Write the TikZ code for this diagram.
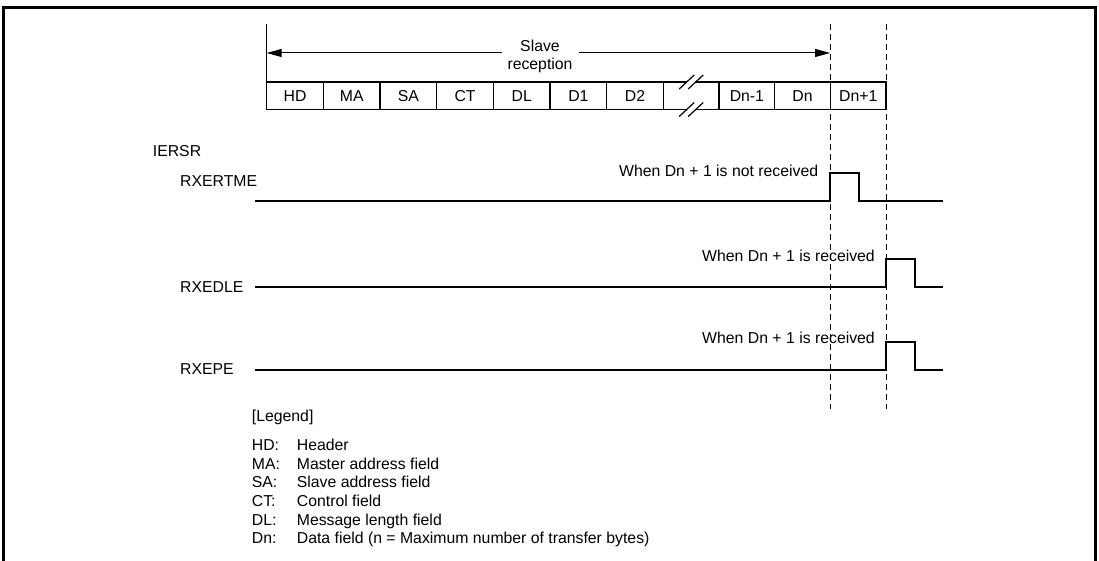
\documentclass[tikz,border=0pt]{standalone}
\usepackage{fontspec}
\setmainfont{Liberation Sans}
\usetikzlibrary{arrows.meta,positioning}

\begin{document}
\begin{tikzpicture}[x=1pt, y=-1pt,
        font=\fontsize{15.8}{18.6}\selectfont,
        cell/.style={draw, line width=1.5pt, minimum width=56.67pt,
                     minimum height=27.5pt, inner sep=0pt, outer sep=0pt},
        tail/.style={cell, minimum width=55.67pt},
        cut/.style={line width=1pt, dash pattern=on 6pt off 4pt},
        sig/.style={line width=2pt},
        span/.style={{Triangle[length=15pt,width=8pt]}-{Triangle[length=15pt,width=8pt]},
                     line width=1pt},
        lbl/.style={anchor=base west, inner sep=0pt},
        note/.style={anchor=base east, inner sep=0pt},
        slash/.style={line width=1.2pt}
      ]
        \useasboundingbox (0,0) rectangle (1099,561);
        \draw[line width=2.5pt] (3.5,566) -- (3.5,7.5) -- (1095.3,7.5) -- (1095.3,566);

        \coordinate (c1t) at (830,24);
        \coordinate (c1b) at (830,409);
        \coordinate (c2t) at (886,24);
        \coordinate (c2b) at (886,409);
        \draw[cut] (c1t) -- (c1b);
        \draw[cut] (c2t) -- (c2b);

        \node[cell, anchor=north west] (hd) at (266.7,82) {HD};
        \node[cell, right=0pt of hd]   (ma)  {MA};
        \node[cell, right=0pt of ma]   (sa)  {SA};
        \node[cell, right=0pt of sa]   (ct)  {CT};
        \node[cell, right=0pt of ct]   (dl)  {DL};
        \node[cell, right=0pt of dl]   (d1)  {D1};
        \node[cell, right=0pt of d1]   (d2)  {D2};
        \node[tail, right=0pt of d2]   (brk) {};
        \node[tail, right=0pt of brk]  (dnm) {Dn-1};
        \node[tail, right=0pt of dnm]  (dn)  {Dn};
        \node[tail, right=0pt of dn]   (dnp) {Dn+1};

        \fill[white] ([shift={(-12,7)}]brk.north) -- ([shift={(3,-7)}]brk.north)
           -- ([shift={(12,-7)}]brk.north) -- ([shift={(-3,7)}]brk.north) -- cycle;
        \draw[slash] ([shift={(-12,7)}]brk.north) -- ([shift={(3,-7)}]brk.north);
        \draw[slash] ([shift={(-3,7)}]brk.north) -- ([shift={(12,-7)}]brk.north);
        \fill[white] ([shift={(-12,7)}]brk.south) -- ([shift={(3,-7)}]brk.south)
           -- ([shift={(12,-7)}]brk.south) -- ([shift={(-3,7)}]brk.south) -- cycle;
        \draw[slash] ([shift={(-12,7)}]brk.south) -- ([shift={(3,-7)}]brk.south);
        \draw[slash] ([shift={(-3,7)}]brk.south) -- ([shift={(12,-7)}]brk.south);

        \coordinate (sl) at (hd.north west |- c1t);
        \coordinate (al) at (266.7,53);
        \coordinate (ar) at (830,53);
        \draw[line width=1pt] (sl) -- (hd.north west);
        \draw[span] (al) -- (ar);
        \node[fill=white, align=center, inner xsep=6pt, inner ysep=1pt] (slv)
           at (540,56.5) {Slave\\reception};

        \node[lbl] (iersr) at (152.7,157) {IERSR};
        \node[lbl] (rxertme) at (180,186.5) {RXERTME};
        \node[lbl] (rxedle)  at (180,292.5) {RXEDLE};
        \node[lbl] (rxepe)   at (180,374.5) {RXEPE};

        \draw[sig] (255,201.5) -- (830,201.5) -- (830,173.5) -- (858.5,173.5)
           -- (858.5,201.5) -- (943,201.5);
        \draw[sig] (255,287) -- (886,287) -- (886,258.5) -- (914.5,258.5)
           -- (914.5,287) -- (943,287);
        \draw[sig] (255,369.5) -- (886,369.5) -- (886,341.5) -- (914.5,341.5)
           -- (914.5,369.5) -- (943,369.5);

        \node[note] (n1) at (818.3,176.7) {When Dn + 1 is not received};
        \node[note] (n2) at (875,261)   {When Dn + 1 is received};
        \node[note] (n3) at (875,343.3) {When Dn + 1 is received};

        \node[lbl] (lgd) at (251.7,421.5) {[Legend]};
        \node[lbl] (keys) at (251.7,450.7) {\begin{tabular}[t]{@{}p{45pt}@{}l@{}}
           HD: & Header\\
           MA: & Master address field\\
           SA: & Slave address field\\
           CT: & Control field\\
           DL: & Message length field\\
           Dn: & Data field (n = Maximum number of transfer bytes)
         \end{tabular}};
      \end{tikzpicture}
\end{document}
